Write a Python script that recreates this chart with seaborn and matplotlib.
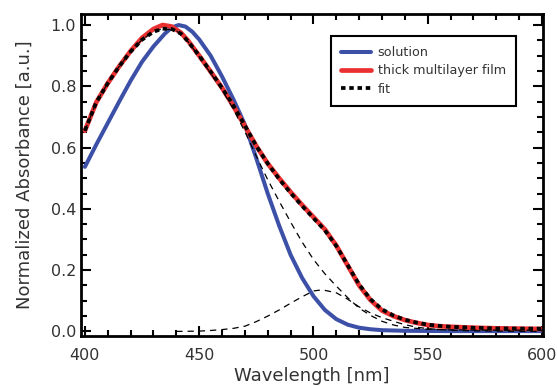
import matplotlib
matplotlib.use("Agg")
import matplotlib.pyplot as plt
import seaborn as sns
from matplotlib.ticker import MultipleLocator, FormatStrFormatter

# solution spectrum (blue)
wl_solution = [400, 405, 410, 415, 420, 425, 430, 435, 438, 441, 444, 447, 450, 455,
               460, 465, 470, 475, 480, 485, 490, 495, 500, 505, 510, 515, 520, 525,
               530, 540, 560, 600]
abs_solution = [0.537, 0.61, 0.68, 0.75, 0.818, 0.88, 0.93, 0.972, 0.992, 1.0, 0.995,
                0.978, 0.953, 0.9, 0.832, 0.757, 0.675, 0.565, 0.45, 0.345, 0.25, 0.175,
                0.115, 0.07, 0.04, 0.022, 0.012, 0.007, 0.004, 0.002, 0.001, 0.001]

# thick multilayer film (red)
wl_film = [400, 405, 410, 415, 420, 425, 430, 434, 438, 442, 445, 450, 455, 460, 465,
           470, 475, 480, 485, 490, 495, 500, 505, 510, 515, 520, 525, 530, 535, 540,
           545, 550, 555, 560, 570, 580, 590, 600]
abs_film = [0.655, 0.748, 0.81, 0.865, 0.915, 0.958, 0.987, 1.0, 0.995, 0.975, 0.95,
            0.9, 0.848, 0.795, 0.735, 0.67, 0.605, 0.548, 0.5, 0.455, 0.413, 0.373,
            0.333, 0.28, 0.215, 0.15, 0.102, 0.068, 0.05, 0.037, 0.028, 0.021, 0.017,
            0.015, 0.012, 0.01, 0.009, 0.008]

# total fit (black dotted)
wl_fit = wl_film
abs_fit = [0.655, 0.748, 0.81, 0.865, 0.913, 0.952, 0.978, 0.988, 0.987, 0.972, 0.948,
           0.9, 0.848, 0.795, 0.737, 0.672, 0.605, 0.548, 0.497, 0.452, 0.41, 0.37,
           0.33, 0.279, 0.216, 0.153, 0.105, 0.072, 0.052, 0.038, 0.029, 0.022, 0.018,
           0.015, 0.012, 0.01, 0.009, 0.009]

# fit components (thin dashed)
wl_comp1 = [400, 405, 410, 415, 420, 425, 430, 434, 440, 445, 450, 455, 460, 465, 470,
            475, 480, 485, 490, 495, 500, 505, 510, 515, 520, 525, 530, 535, 540, 550,
            560, 580, 600]
abs_comp1 = [0.655, 0.748, 0.81, 0.865, 0.913, 0.952, 0.978, 0.988, 0.982, 0.947, 0.897,
             0.843, 0.788, 0.725, 0.652, 0.572, 0.495, 0.425, 0.357, 0.292, 0.235, 0.188,
             0.148, 0.11, 0.076, 0.052, 0.033, 0.021, 0.013, 0.007, 0.005, 0.004, 0.004]

wl_comp2 = [440, 450, 455, 460, 465, 470, 475, 480, 485, 490, 495, 500, 503, 505, 510,
            515, 520, 525, 530, 535, 540, 545, 550, 560, 570, 580, 600]
abs_comp2 = [0.0, 0.001, 0.003, 0.006, 0.01, 0.017, 0.032, 0.05, 0.07, 0.092, 0.113,
             0.132, 0.135, 0.134, 0.126, 0.105, 0.08, 0.06, 0.045, 0.033, 0.022, 0.014,
             0.009, 0.004, 0.002, 0.001, 0.0]

sns.set_theme(style="ticks")
plt.rcParams['font.family'] = ['DejaVu Sans']
text_col = '#333333'

fig = plt.figure(figsize=(5.57, 3.86), dpi=100)
ax = fig.add_axes([81 / 557, 1 - 335.7 / 386, 461.7 / 557, 321.7 / 386])

sns.lineplot(x=wl_solution, y=abs_solution, ax=ax, color='#3d50a7', lw=2.9)
sns.lineplot(x=wl_film, y=abs_film, ax=ax, color='#ea3030', lw=3.4)
sns.lineplot(x=wl_comp1, y=abs_comp1, ax=ax, color='black', lw=0.9,
             linestyle=(0, (5, 4)))
sns.lineplot(x=wl_comp2, y=abs_comp2, ax=ax, color='black', lw=0.9,
             linestyle=(0, (5, 4)))
sns.lineplot(x=wl_fit, y=abs_fit, ax=ax, color='black', lw=2.7,
             linestyle=(0, (1.2, 1.0)))

lines = ax.get_lines()
leg = ax.legend([lines[0], lines[1], lines[4]],
                ['solution', 'thick multilayer film', 'fit'],
                loc='upper right', bbox_to_anchor=(0.942, 0.932), borderaxespad=0,
                fontsize=9.2, fancybox=False, framealpha=1, edgecolor='black',
                handlelength=2.3, handletextpad=0.55, labelspacing=0.42,
                borderpad=0.8)
leg.get_frame().set_linewidth(1.5)
for t in leg.get_texts():
    t.set_color(text_col)

ax.set_xlim(398.3, 600.3)
ax.set_ylim(-0.014, 1.036)
ax.xaxis.set_major_locator(MultipleLocator(50))
ax.xaxis.set_minor_locator(MultipleLocator(10))
ax.yaxis.set_major_locator(MultipleLocator(0.2))
ax.yaxis.set_minor_locator(MultipleLocator(0.05))
ax.yaxis.set_major_formatter(FormatStrFormatter('%.1f'))

ax.tick_params(which='both', direction='in', top=True, right=True, width=1.5,
               color='black', labelcolor=text_col, labelsize=11.5)
ax.tick_params(which='major', length=7)
ax.tick_params(which='minor', length=4)
ax.tick_params(axis='x', which='major', pad=9)
ax.tick_params(axis='y', which='major', pad=3.5)
for s in ax.spines.values():
    s.set_linewidth(2)
    s.set_color('black')

ax.set_xlabel('Wavelength [nm]', fontsize=13, color=text_col, labelpad=3)
ax.set_ylabel('Normalized Absorbance [a.u.]', fontsize=13, color=text_col, labelpad=12.5)

fig.savefig('out.png', dpi=100)
